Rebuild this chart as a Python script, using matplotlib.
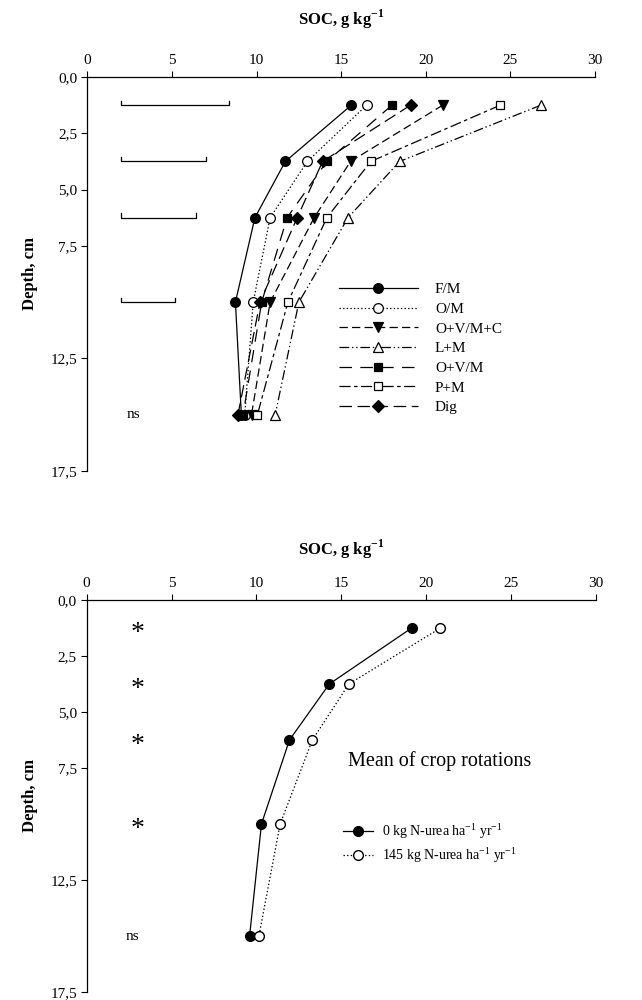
import numpy as np
import matplotlib
matplotlib.use("Agg")
import matplotlib.pyplot as plt

plt.rcParams['font.family'] = ['Liberation Serif', 'DejaVu Serif']
plt.rcParams['lines.scale_dashes'] = False

# Profondeurs (milieu des couches)
depth = [1.25, 3.75, 6.25, 10, 15]
depth_ticks = [0, 2.5, 5, 7.5, 12.5, 17.5]
depth_labels = ["0,0", "2,5", "5,0", "7,5", "12,5", "17,5"]
soc_ticks = [0, 5, 10, 15, 20, 25, 30]

# Rotations (panneau du haut)
fm = [15.6, 11.7, 9.9, 8.75, 9.1]
om = [16.5, 13.0, 10.8, 9.8, 9.3]
ovmc = [21.0, 15.55, 13.4, 10.8, 9.7]
lm = [26.8, 18.45, 15.4, 12.5, 11.1]
ovm = [18.0, 14.15, 11.8, 10.3, 9.2]
pm = [24.4, 16.75, 14.15, 11.85, 10.05]
dig = [19.1, 13.9, 12.4, 10.2, 8.9]
# LSD (longueur des barres), dernière couche ns
lsd = [6.35, 5.0, 4.45, 3.2]

# Moyenne des rotations (panneau du bas)
n0 = [19.15, 14.3, 11.95, 10.3, 9.6]
n145 = [20.85, 15.45, 13.3, 11.4, 10.15]
signif = ["*", "*", "*", "*", "ns"]

fig = plt.figure(figsize=(6.42, 10), dpi=100)
ax1 = fig.add_axes([0.136, 0.529, 0.791, 0.394])
ax2 = fig.add_axes([0.135, 0.008, 0.793, 0.392])


def style_axis(ax, pad):
    ax.set_xlim(0, 30)
    ax.set_ylim(17.5, 0)
    ax.xaxis.tick_top()
    ax.xaxis.set_label_position("top")
    ax.spines['right'].set_visible(False)
    ax.spines['bottom'].set_visible(False)
    for s in ['top', 'left']:
        ax.spines[s].set_linewidth(0.9)
    ax.set_xticks(soc_ticks)
    ax.set_xticklabels([str(t) for t in soc_ticks])
    ax.set_yticks(depth_ticks)
    ax.set_yticklabels(depth_labels)
    ax.tick_params(direction='out', length=4, width=0.8, labelsize=11, pad=3)
    ax.set_xlabel("SOC, g kg$^{\\mathregular{-1}}$", fontsize=12, fontweight='bold', labelpad=pad)
    ax.set_ylabel("Depth, cm", fontsize=12, fontweight='bold', labelpad=9)


style_axis(ax1, 21)
style_axis(ax2, 16)

lw = 0.9
ms = 7
series = [
    (fm, "F/M", 'o', 'k', '-'),
    (om, "O/M", 'o', 'white', (0, (1, 1.6))),
    (ovmc, "O+V/M+C", 'v', 'k', (0, (6, 3))),
    (lm, "L+M", '^', 'white', (0, (7, 2, 1, 2, 1, 2))),
    (ovm, "O+V/M", 's', 'k', (0, (9, 6))),
    (pm, "P+M", 's', 'white', (0, (8, 2.5, 2.5, 2.5))),
    (dig, "Dig", 'D', 'k', (0, (9, 4))),
]
handles = []
for vals, lab, mk, fc, ls in series:
    size = ms - 1 if mk in ('D', 's') else ms
    h, = ax1.plot(vals, depth, color='k', lw=lw, linestyle=ls, marker=mk,
                  markersize=size, markerfacecolor=fc, markeredgecolor='k',
                  markeredgewidth=0.9, label=lab, clip_on=False)
    handles.append(h)

# Barres de LSD
for d, L in zip(depth[:4], lsd):
    x0 = 2.0
    ax1.plot([x0, x0, x0 + L, x0 + L], [d - 0.2, d, d, d - 0.2], color='k', lw=0.9)
ax1.text(2.7, depth[4], "ns", fontsize=11, ha='center', va='center')

leg = ax1.legend(handles=handles, loc='upper left', bbox_to_anchor=(0.495, 0.478),
                 frameon=False, fontsize=11, handlelength=5.2, handletextpad=1.1,
                 labelspacing=0.39, borderpad=0, borderaxespad=0)

# Panneau du bas
h0, = ax2.plot(n0, depth, color='k', lw=lw, marker='o', markersize=ms,
               markerfacecolor='k', markeredgecolor='k',
               label="0 kg N-urea ha$^{\\mathregular{-1}}$ yr$^{\\mathregular{-1}}$")
h1, = ax2.plot(n145, depth, color='k', lw=lw, linestyle=(0, (1, 1.6)), marker='o',
               markersize=ms, markerfacecolor='white', markeredgecolor='k',
               label="145 kg N-urea ha$^{\\mathregular{-1}}$ yr$^{\\mathregular{-1}}$")
for d, s in zip(depth, signif):
    if s == "*":
        ax2.text(3.0, d + 0.25, s, fontsize=20, ha='center', va='center')
    else:
        ax2.text(2.7, d, s, fontsize=11, ha='center', va='center')

ax2.text(15.4, 7.2, "Mean of crop rotations", fontsize=14.5, ha='left', va='center')
ax2.legend(handles=[h0, h1], loc='upper left', bbox_to_anchor=(0.503, 0.435),
           frameon=False, fontsize=10, handlelength=2.2, handletextpad=0.6,
           labelspacing=0.3, borderpad=0, borderaxespad=0)

fig.savefig("out.png", dpi=100)
